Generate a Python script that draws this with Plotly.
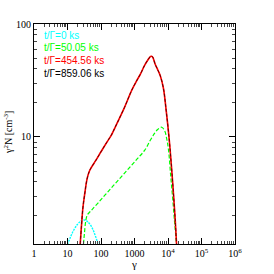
import plotly.graph_objects as go

# t/Gamma = 0 ks
g_cyan = [10, 12, 15, 20, 25, 30, 35, 40, 50, 60, 70, 80, 85]
n_cyan = [1.12, 1.28, 1.48, 1.69, 1.80, 1.84, 1.83, 1.78, 1.64, 1.47, 1.30, 1.15, 1.08]

# t/Gamma = 50.05 ks
g_green = [30, 32, 35, 39, 50, 80, 150, 300, 600, 1200, 2000, 3000, 4000, 5000,
           6500, 8000, 9300, 10400, 12000, 14000, 16000, 18000]
n_green = [1.13, 1.4, 1.8, 2.04, 2.22, 2.59, 3.2, 4.03, 5.07, 6.4, 7.6, 9.4, 10.8, 11.7,
           12.2, 11.3, 9.4, 7.6, 4.6, 2.7, 1.66, 1.13]

# t/Gamma = 454.56 ks
g_red = [24, 26, 29, 33, 38, 44, 50, 70, 100, 150, 200, 300, 500, 830, 1200, 1500,
         2000, 2500, 3000, 3400, 4150, 5000, 5850, 7300, 8800, 10700, 12500, 14500, 16500, 18000]
n_red = [1.13, 1.6, 2.4, 3.2, 4.2, 4.9, 5.3, 6.2, 7.4, 9.0, 10.3, 13.2, 18.2, 26, 32, 36,
         43, 48, 51.5, 51.5, 44, 39, 35, 27, 17.3, 10, 5.8, 3.2, 1.8, 1.13]

# t/Gamma = 859.06 ks (overlaps the previous curve)
g_black = list(g_red)
n_black = list(n_red)

labels = ["t/\u0393=0 ks", "t/\u0393=50.05 ks", "t/\u0393=454.56 ks", "t/\u0393=859.06 ks"]
colors = ["#00ffff", "#00ff00", "#ff0000", "#000000"]

x_tickvals = [1, 10, 100, 1000, 1e4, 1e5, 1e6]
x_ticktext = ["1", "10", "100", "1000", "10<sup>4</sup>", "10<sup>5</sup>", "10<sup>6</sup>"]
x_minor = [m * 10 ** d for d in range(6) for m in range(2, 10)]
y_tickvals = [10, 100]
y_ticktext = ["10", "100"]
y_minor = [m * 10 ** d for d in range(2) for m in range(2, 10)]

x_range = [0, 6]
y_range = [0.053, 2]

fig = go.Figure()
fig.add_trace(go.Scatter(x=g_cyan, y=n_cyan, mode="lines", line=dict(color=colors[0], width=1.4, dash="2px,1px", shape="spline")))
fig.add_trace(go.Scatter(x=g_green, y=n_green, mode="lines", line=dict(color=colors[1], width=1.2, dash="4px,2px", shape="spline")))
fig.add_trace(go.Scatter(x=g_red, y=n_red, mode="lines", line=dict(color=colors[2], width=1.6, shape="spline")))
fig.add_trace(go.Scatter(x=g_black, y=n_black, mode="lines", line=dict(color="#600000", width=1.0, dash="3px,2px", shape="spline")))

serif = "Liberation Serif, Times New Roman, serif"
L, R, T, B = 34, 39, 24, 30
PW, PH = 274 - L - R, 274 - T - B

for i, (lab, col) in enumerate(zip(labels, colors)):
    fig.add_annotation(text=lab, xref="paper", yref="paper", x=(42 - L) / PW,
                       y=(274 - B - (35 + 12.7 * i)) / PH, xanchor="left", yanchor="middle",
                       showarrow=False, font=dict(family="Liberation Sans, Arial, sans-serif", size=10, color=col))

# axis titles
fig.add_annotation(text="\u03b3", xref="paper", yref="paper", x=(134 - L) / PW, y=-(264 - (274 - B)) / PH,
                   xanchor="center", yanchor="middle", showarrow=False,
                   font=dict(family=serif, size=11, color="black"))
fig.add_annotation(text="\u03b3<sup>2</sup>N [cm<sup>-3</sup>]", xref="paper", yref="paper",
                   x=-(L - 8) / PW, y=(274 - B - 133) / PH, textangle=-90,
                   xanchor="center", yanchor="middle", showarrow=False,
                   font=dict(family=serif, size=10, color="black"))

axis_common = dict(showline=True, linecolor="black", linewidth=1, mirror="ticks",
                   ticks="inside", ticklen=6, tickcolor="black", tickwidth=1, showgrid=False, zeroline=False,
                   automargin=False, tickfont=dict(family=serif, size=10, color="black"))

fig.update_layout(
    xaxis=dict(type="log", range=x_range, tickvals=x_tickvals, ticktext=x_ticktext, **axis_common),
    yaxis=dict(type="log", range=y_range, tickvals=y_tickvals, ticktext=y_ticktext, **axis_common),
    xaxis2=dict(type="log", range=x_range, overlaying="x", anchor="y", side="bottom", tickvals=x_minor,
                showticklabels=False, ticks="inside", ticklen=3, tickcolor="#444", mirror="ticks",
                showline=False, showgrid=False, zeroline=False, automargin=False),
    yaxis2=dict(type="log", range=y_range, overlaying="y", anchor="x", side="left", tickvals=y_minor,
                showticklabels=False, ticks="inside", ticklen=3, tickcolor="#444", mirror="ticks",
                showline=False, showgrid=False, zeroline=False, automargin=False),
    width=274, height=274, margin=dict(l=L, r=R, t=T, b=B, autoexpand=False),
    plot_bgcolor="white", paper_bgcolor="white", showlegend=False)

# invisible trace bound to the minor-tick axes so they are drawn
fig.add_trace(go.Scatter(x=[g_red[0]], y=[n_red[0]], xaxis="x2", yaxis="y2", mode="markers",
                         marker=dict(opacity=0), hoverinfo="skip"))

fig.write_html("out.html", config={"displayModeBar": False},
               post_script="document.body.style.margin='0';document.body.style.padding='0';")
